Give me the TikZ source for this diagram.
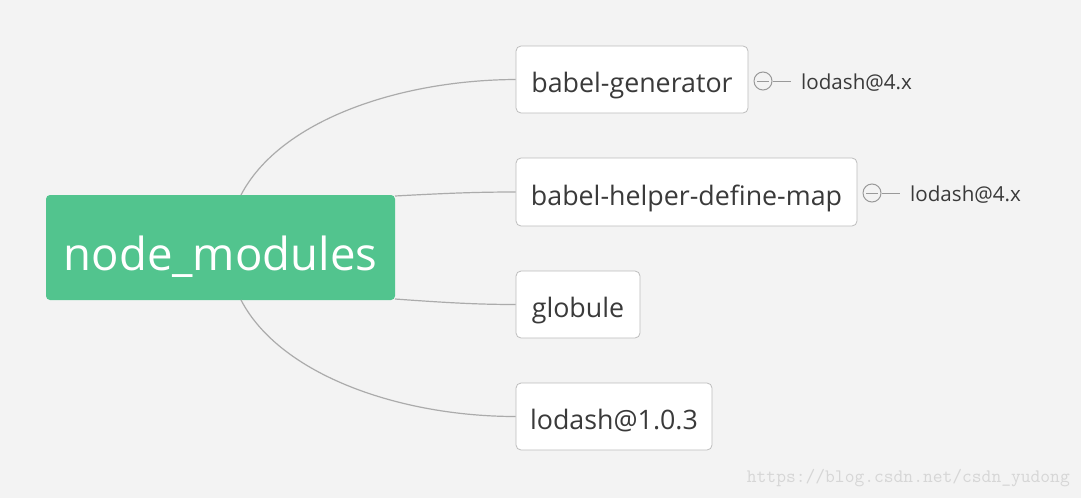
\documentclass[tikz,border=0pt]{standalone}
\usepackage{fontspec}
\setmainfont{Open Sans}
\definecolor{bg}{HTML}{F3F3F3}
\definecolor{rootgreen}{HTML}{52C48E}
\definecolor{boxborder}{HTML}{BDBDBD}
\definecolor{linkgray}{HTML}{ABABAB}
\definecolor{txt}{HTML}{3A3A3A}
\definecolor{icon}{HTML}{999999}
\definecolor{wm}{HTML}{D6D6D6}
\tikzset{
  rootbox/.style={fill=rootgreen, rounded corners=4pt, text=white, font=\fontsize{45.5}{54}\selectfont, minimum width=349pt, minimum height=105pt, inner sep=0pt, text height=45pt, text depth=0pt},
  childbox/.style={draw=boxborder, line width=0.8pt, fill=white, rounded corners=5pt, text=txt, font=\fontsize{26.8}{32}\selectfont, minimum height=67pt, inner sep=0pt, text height=26pt, text depth=0pt},
  link/.style={draw=linkgray, line width=1.2pt},
  leaf/.style={text=txt, font=\fontsize{20.6}{24}\selectfont, anchor=base west, inner sep=0pt},
  collapse/.style={circle, draw=icon, line width=1pt, minimum size=18pt, inner sep=0pt},
}
\begin{document}
\begin{tikzpicture}[x=1pt,y=-1pt]
\fill[bg] (0,0) rectangle (1081,498);
\useasboundingbox (0,0) rectangle (1081,498);

\node[rootbox] (root) at (220.5,247.5) {node\_modules};

\node[childbox, minimum width=232pt] (c1) at (632,79.5) {babel-generator};
\node[childbox, minimum width=341pt, minimum height=68pt] (c2) at (686.5,192) {babel-helper-define-map};
\node[childbox, minimum width=124pt] (c3) at (578,304.5) {globule};
\node[childbox, minimum width=196pt] (c4) at (614,416.5) {lodash@1.0.3};

\coordinate (r1) at (241,195);
\coordinate (r2) at (395,196);
\coordinate (r3) at (395,299);
\coordinate (r4) at (241,300);

\draw[link] (r1) .. controls (280,120) and (400,80) .. (c1.west);
\draw[link] (r2) .. controls (450,193) and (480,192) .. (c2.west);
\draw[link] (r3) .. controls (450,303) and (480,304.5) .. (c3.west);
\draw[link] (r4) .. controls (280,375) and (400,416.5) .. (c4.west);

\node[collapse] (k1) at (763,81) {};
\draw[icon, line width=1pt] ([xshift=-6pt]k1.center) -- ([xshift=6pt]k1.center);
\coordinate (k1e) at (791,81);
\draw[icon, line width=1pt] (k1.east) -- (k1e);
\node[leaf] (l1) at (801,89) {lodash@4.x};

\node[collapse] (k2) at (872,193) {};
\draw[icon, line width=1pt] ([xshift=-6pt]k2.center) -- ([xshift=6pt]k2.center);
\coordinate (k2e) at (900,193);
\draw[icon, line width=1pt] (k2.east) -- (k2e);
\node[leaf] (l2) at (910,201) {lodash@4.x};

\node[text=wm, font=\ttfamily\fontsize{19}{22}\selectfont, anchor=east, inner sep=0pt] (wmk) at (1070,478) {https://blog.csdn.net/csdn\_yudong};
\end{tikzpicture}
\end{document}
